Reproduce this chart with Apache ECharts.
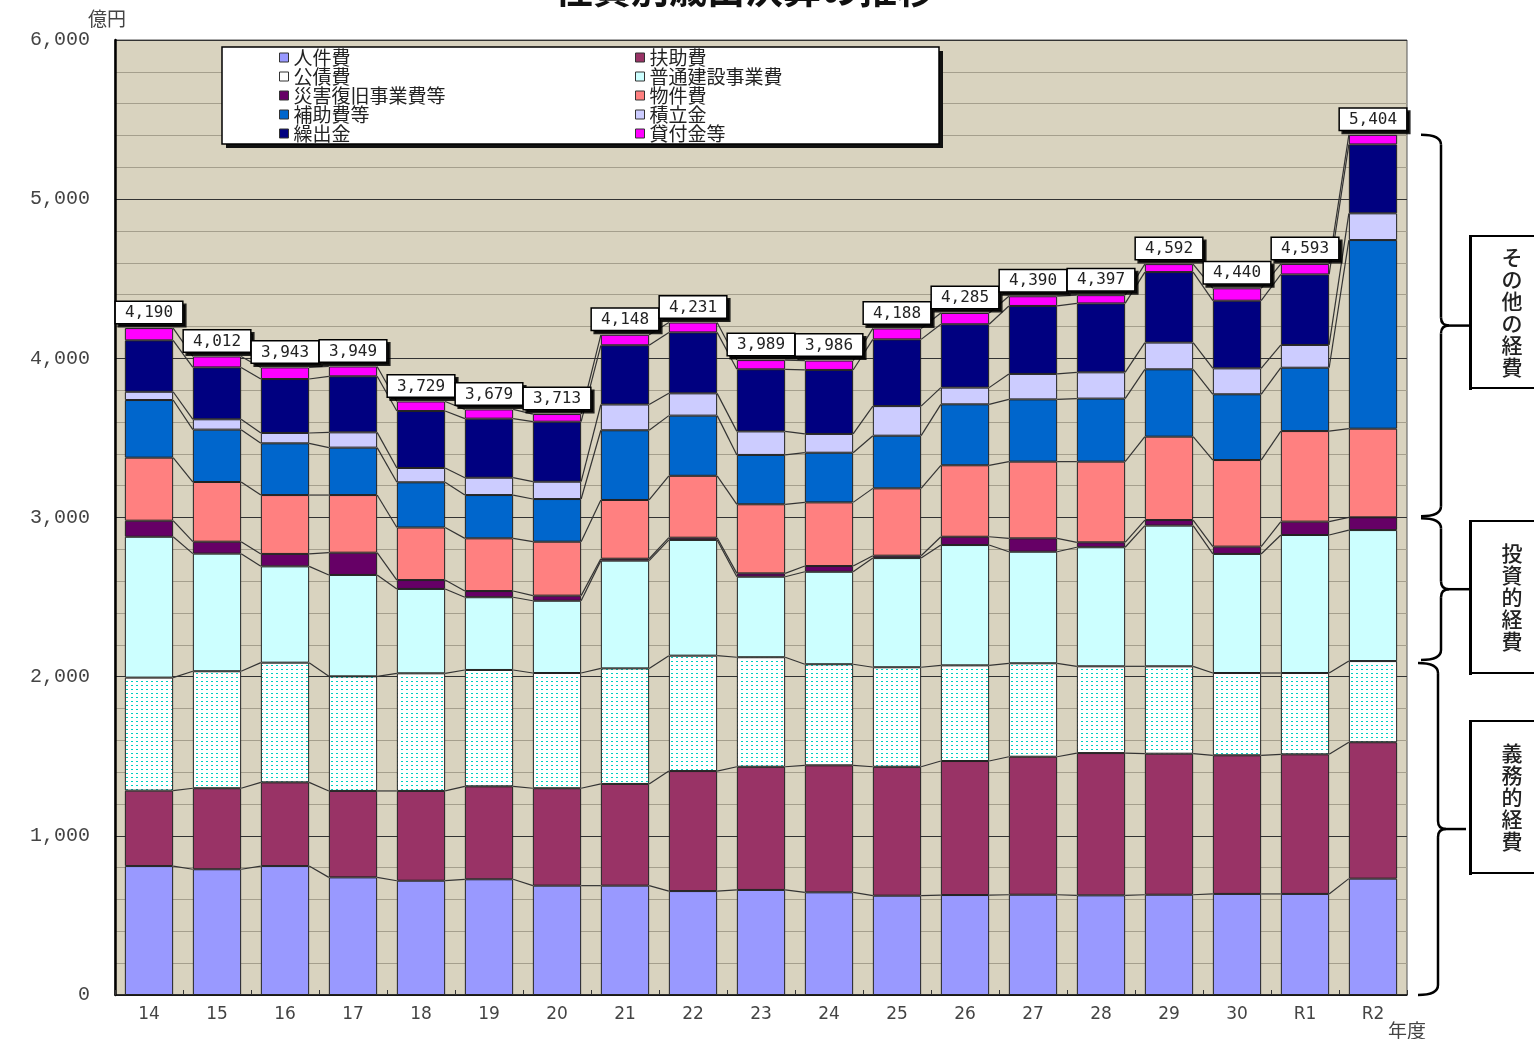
<!DOCTYPE html>
<html>
<head>
<meta charset="utf-8">
<title>性質別歳出決算の推移</title>
<script src="https://cdn.jsdelivr.net/npm/echarts@6/dist/echarts.min.js"></script>
<style>
  html, body { margin: 0; padding: 0; background: #fff; }
  #chart { width: 1534px; height: 1039px; }
</style>
</head>
<body>
<div id="chart"></div>
<script>
// 年度
let cats = ['14', '15', '16', '17', '18', '19', '20', '21', '22', '23', '24', '25', '26', '27', '28', '29', '30', 'R1', 'R2'];
// 各経費（億円）
let jinkenhi = [810, 790, 810, 739, 718, 727, 687, 687, 653, 660, 645, 624, 628, 630, 626, 630, 635, 635, 731];
let fujohi = [474, 509, 526, 543, 564, 584, 612, 639, 754, 774, 798, 810, 842, 867, 894, 886, 871, 877, 857];
let kousaihi = [710, 735, 752, 720, 739, 731, 724, 726, 725, 688, 635, 625, 601, 587, 545, 549, 517, 511, 510];
let futsuken = [885, 739, 605, 637, 530, 457, 454, 677, 727, 506, 581, 686, 756, 701, 748, 884, 748, 867, 823];
let saigai = [101, 75, 78, 140, 56, 39, 32, 12, 14, 21, 36, 15, 52, 84, 31, 35, 46, 84, 80];
let bukkenhi = [396, 375, 370, 362, 330, 331, 339, 369, 389, 434, 400, 423, 449, 482, 507, 524, 544, 569, 557];
let hojohi = [362, 329, 325, 298, 284, 272, 268, 438, 378, 310, 312, 331, 383, 391, 396, 423, 413, 398, 1185];
let tsumitate = [52, 65, 65, 96, 90, 109, 109, 162, 140, 148, 118, 186, 105, 160, 165, 168, 163, 143, 168];
let kuridashi = [323, 326, 339, 352, 358, 371, 377, 372, 383, 390, 402, 419, 398, 427, 433, 443, 425, 443, 433];
let kashitsuke = [77, 69, 73, 62, 60, 58, 48, 66, 62, 58, 59, 69, 71, 61, 52, 50, 78, 66, 60];
// 合計（ラベル）
let totals = [4190, 4012, 3943, 3949, 3729, 3679, 3713, 4148, 4231, 3989, 3986, 4188, 4285, 4390, 4397, 4592, 4440, 4593, 5404];
let yTicks = [0, 1000, 2000, 3000, 4000, 5000, 6000];

let names = ['人件費', '扶助費', '公債費', '普通建設事業費', '災害復旧事業費等', '物件費', '補助費等', '積立金', '繰出金', '貸付金等'];
let values = [jinkenhi, fujohi, kousaihi, futsuken, saigai, bukkenhi, hojohi, tsumitate, kuridashi, kashitsuke];

// 公債費のドット柄
let cv = document.createElement('canvas');
cv.width = 5;
cv.height = 4;
let ctx = cv.getContext('2d');
ctx.fillStyle = '#ffffff';
ctx.fillRect(0, 0, 5, 4);
ctx.fillStyle = '#00d0c0';
ctx.fillRect(1, 1, 2, 1);

let colors = ['#9999ff', '#993366', { image: cv, repeat: 'repeat' }, '#ccffff', '#660066', '#ff8080', '#0066cc', '#ccccff', '#000080', '#ff00ff'];

// 累積値（区分線用）
let cum = cats.map((c, i) => {
  let s = 0;
  return values.map(v => (s += v[i]));
});

let barW = 0.71;
let fontJp = '"Noto Sans CJK JP", sans-serif';

let series = names.map((n, k) => {
  let s = {
    name: n,
    type: 'bar',
    stack: 'total',
    barWidth: barW * 100 + '%',
    data: values[k],
    itemStyle: { color: colors[k], borderColor: '#222', borderWidth: 1 },
    emphasis: { disabled: true },
  };
  if (k === names.length - 1) {
    s.label = {
      show: true,
      position: 'top',
      distance: 5,
      formatter: p => totals[p.dataIndex].toLocaleString('en-US'),
      fontFamily: '"DejaVu Sans Mono", monospace',
      fontSize: 16,
      color: '#222',
      backgroundColor: '#fff',
      borderColor: '#000',
      borderWidth: 1.5,
      padding: [3, 9, 2, 9],
      shadowColor: 'rgba(0,0,0,0.85)',
      shadowOffsetX: 3,
      shadowOffsetY: 3,
      shadowBlur: 0,
    };
  }
  return s;
});

// 区分線
series.push({
  type: 'custom',
  name: 'lines',
  z: 1,
  silent: true,
  data: cats.slice(0, -1).map((c, i) => [i, cum[i][9]]),
  encode: { x: 0, y: 1 },
  renderItem: function (params, api) {
    let i = api.value(0);
    let band = api.size([1, 0])[0];
    let half = band * barW / 2;
    let children = [];
    for (let k = 0; k < names.length; k++) {
      let p1 = api.coord([i, cum[i][k]]);
      let p2 = api.coord([i + 1, cum[i + 1][k]]);
      children.push({
        type: 'line',
        shape: { x1: p1[0] + half, y1: p1[1], x2: p2[0] - half, y2: p2[1] },
        style: { stroke: '#333', lineWidth: 1.2 },
      });
    }
    return { type: 'group', children: children };
  },
});

let legendText = { fontFamily: fontJp, fontSize: 19, color: '#222' };
let legendBase = {
  orient: 'vertical',
  top: 48,
  padding: 0,
  itemGap: 0,
  itemWidth: 9,
  itemHeight: 9,
  itemTextGap: 9,
  icon: 'rect',
  itemStyle: { borderColor: '#333', borderWidth: 1 },
  textStyle: legendText,
  selectedMode: false,
  z: 10,
};

let chart = echarts.init(document.getElementById('chart'));
let option = {
  animation: false,
  grid: {
    left: 115,
    right: 127,
    top: 40,
    bottom: 44,
    show: true,
    backgroundColor: '#d9d3bf',
    borderColor: '#555',
    borderWidth: 1,
  },
  legend: [
    Object.assign({}, legendBase, {
      left: 279,
      data: ['人件費', { name: '公債費', itemStyle: { color: '#fff' } }, '災害復旧事業費等', '補助費等', '繰出金'],
    }),
    Object.assign({}, legendBase, {
      left: 635,
      data: ['扶助費', '普通建設事業費', '物件費', '積立金', '貸付金等'],
    }),
  ],
  xAxis: {
    type: 'category',
    data: cats,
    axisLine: { lineStyle: { color: '#111', width: 1.5 } },
    axisTick: { show: true, inside: true, length: 5, lineStyle: { color: '#333' } },
    axisLabel: { fontFamily: '"DejaVu Sans", sans-serif', fontSize: 17, color: '#444', margin: 11 },
  },
  yAxis: {
    type: 'value',
    min: yTicks[0],
    max: yTicks[yTicks.length - 1],
    interval: 1000,
    axisLine: { show: true, lineStyle: { color: '#000', width: 2.5 } },
    axisTick: { show: false },
    axisLabel: {
      fontFamily: '"Liberation Mono", monospace',
      fontSize: 20,
      color: '#444',
      margin: 25,
      formatter: v => v.toLocaleString('en-US'),
    },
    splitLine: { lineStyle: { color: '#333', width: 1 } },
    minorTick: { show: false, splitNumber: 5 },
    minorSplitLine: { show: true, lineStyle: { color: '#a59f8d', width: 1 } },
  },
  series: series,
};
chart.setOption(option);

// 右側の括弧と注記
let last = cum[cats.length - 1];
let py = v => chart.convertToPixel({ yAxisIndex: 0 }, v);
let braceStyle = { fill: 'none', stroke: '#000', lineWidth: 2.5 };
function brace(y1, y2, x) {
  let ym = (y1 + y2) / 2;
  let parts = [
    { type: 'bezierCurve', shape: { x1: x - 20, y1: y1, cpx1: x, cpy1: y1, x2: x, y2: y1 + 10 } },
    { type: 'line', shape: { x1: x, y1: y1 + 10, x2: x, y2: ym - 8 } },
    { type: 'bezierCurve', shape: { x1: x, y1: ym - 8, cpx1: x, cpy1: ym, x2: x + 8, y2: ym } },
    { type: 'line', shape: { x1: x + 8, y1: ym, x2: x + 28, y2: ym } },
    { type: 'bezierCurve', shape: { x1: x + 8, y1: ym, cpx1: x, cpy1: ym, x2: x, y2: ym + 8 } },
    { type: 'line', shape: { x1: x, y1: ym + 8, x2: x, y2: y2 - 10 } },
    { type: 'bezierCurve', shape: { x1: x, y1: y2 - 10, cpx1: x, cpy1: y2, x2: x - 20, y2: y2 } },
  ];
  parts.forEach(p => { p.style = braceStyle; p.z = 5; });
  return parts;
}
function noteBox(y, h, text) {
  return [
    { type: 'rect', shape: { x: 1470, y: y, width: 80, height: h }, style: { fill: '#fff', stroke: '#000', lineWidth: 2 }, z: 5 },
    { type: 'rect', shape: { x: 1469, y: y, width: 3, height: h + 2 }, style: { fill: '#000' }, z: 6 },
    {
      type: 'text', x: 1512, y: y + h / 2, z: 7,
      style: {
        text: text, width: 24, overflow: 'breakAll', align: 'center', verticalAlign: 'middle',
        font: '500 21px ' + fontJp, lineHeight: 22, fill: '#222',
      },
    },
  ];
}
let yTotal = py(last[9]);
let yInvest = py(last[4]);
let yDuty = py(last[2]);
let y0 = py(0);
let graphics = [
  // タイトル（上部で切れている）
  { type: 'text', x: 745, y: 8, style: { text: '性質別歳出決算の推移', align: 'center', verticalAlign: 'bottom', font: 'bold 38px ' + fontJp, fill: '#111' } },
  { type: 'text', x: 107, y: 19, style: { text: '億円', align: 'center', verticalAlign: 'middle', font: '19px ' + fontJp, fill: '#444' } },
  { type: 'text', x: 1407, y: 1031, style: { text: '年度', align: 'center', verticalAlign: 'middle', font: '19px ' + fontJp, fill: '#444' } },
  // 凡例枠
  { type: 'rect', shape: { x: 226, y: 51, width: 717, height: 97 }, style: { fill: '#111' }, z: 3 },
  { type: 'rect', shape: { x: 222, y: 47, width: 717, height: 97 }, style: { fill: '#fff', stroke: '#000', lineWidth: 1.5 }, z: 4 },
].concat(
  brace(yTotal, yInvest - 1, 1441),
  brace(yInvest + 1, yDuty - 1, 1441),
  brace(yDuty + 2, y0, 1438),
  noteBox(236, 152, 'その他の経費'),
  noteBox(521, 152, '投資的経費'),
  noteBox(721, 152, '義務的経費')
);
chart.setOption({ graphic: graphics });

window.addEventListener('resize', function () {
  chart.resize();
});
</script>
</body>
</html>
